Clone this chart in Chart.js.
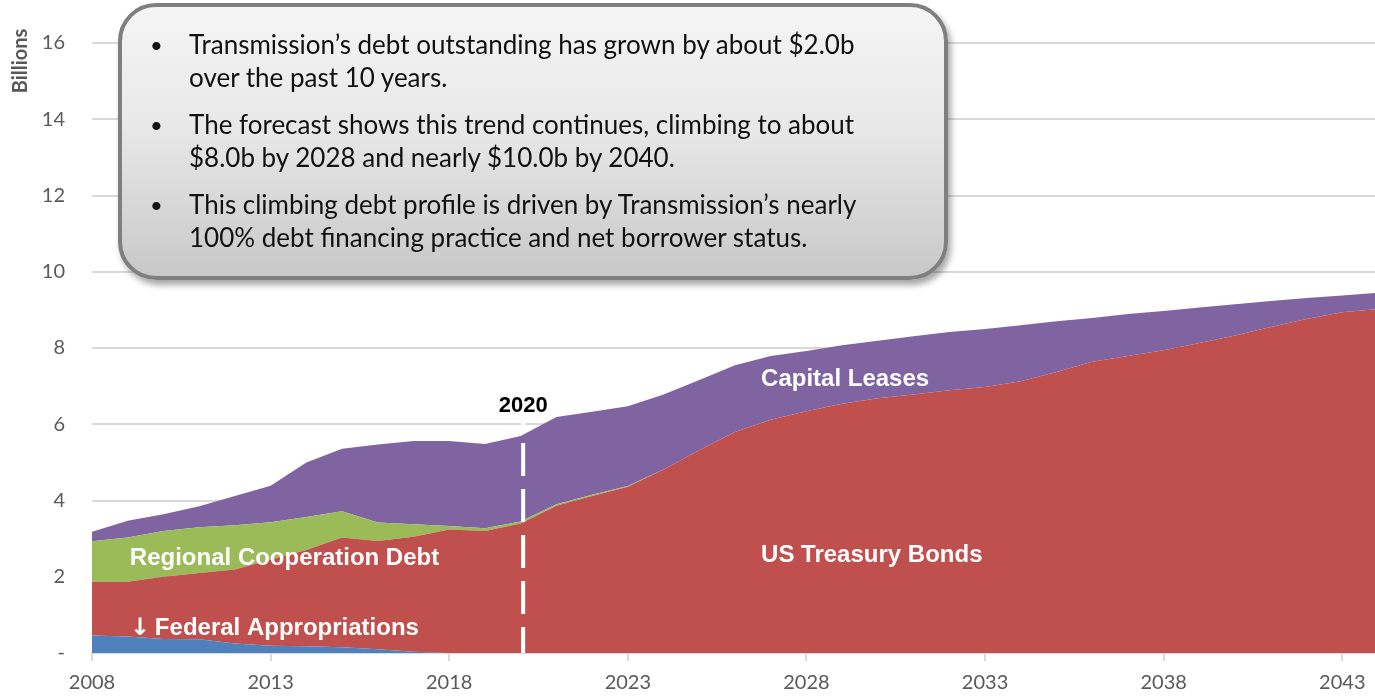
<!DOCTYPE html>
<html>
<head>
<meta charset="utf-8">
<script src="https://cdn.jsdelivr.net/npm/chart.js@4.4.0/dist/chart.umd.min.js"></script>
<style>
  html, body { margin: 0; padding: 0; background: #fff; overflow: hidden; }
  #wrap { position: relative; width: 1388px; height: 697px; }
  .note {
    position: absolute; left: 118px; top: 3px; width: 830px; height: 277px;
    box-sizing: border-box; border: 4px solid #7f7f7f; border-radius: 38px;
    background: linear-gradient(#f5f5f5 0%, #e8e8e8 45%, #c8c8c8 100%);
    box-shadow: 3px 5px 6px rgba(0, 0, 0, 0.35);
  }
  .item {
    position: absolute; left: 0; font-family: Lato, "Open Sans", sans-serif;
    font-size: 26px; line-height: 33px; color: #111; white-space: nowrap;
  }
  .item .dot { position: absolute; left: 150px; font-size: 22px; }
  .item .txt { position: absolute; left: 189px; }
</style>
</head>
<body>
<div id="wrap">
  <canvas id="debtChart"></canvas>
  <div class="note"></div>
  <div class="item" style="top:28px"><span class="dot">•</span><span class="txt">Transmission’s debt outstanding has grown by about $2.0b<br>over the past 10 years.</span></div>
  <div class="item" style="top:108px"><span class="dot">•</span><span class="txt">The forecast shows this trend continues, climbing to about<br>$8.0b by 2028 and nearly $10.0b by 2040.</span></div>
  <div class="item" style="top:188px"><span class="dot">•</span><span class="txt">This climbing debt profile is driven by Transmission’s nearly<br>100% debt financing practice and net borrower status.</span></div>
</div>
<script>
// Years on the x axis
const years = ["2008", "2009", "2010", "2011", "2012", "2013", "2014", "2015", "2016", "2017",
  "2018", "2019", "2020", "2021", "2022", "2023", "2024", "2025", "2026", "2027",
  "2028", "2029", "2030", "2031", "2032", "2033", "2034", "2035", "2036", "2037",
  "2038", "2039", "2040", "2041", "2042", "2043", "2044"];

// Debt outstanding by source, billions (stacked bottom to top)
const federalAppropriations = [0.46, 0.43, 0.37, 0.36, 0.25, 0.19, 0.18, 0.15, 0.10, 0.03,
  0, 0, 0, 0, 0, 0, 0, 0, 0, 0,
  0, 0, 0, 0, 0, 0, 0, 0, 0, 0,
  0, 0, 0, 0, 0, 0, 0];
const usTreasuryBonds = [1.41, 1.44, 1.63, 1.74, 1.94, 2.26, 2.52, 2.88, 2.84, 3.02,
  3.24, 3.20, 3.40, 3.86, 4.12, 4.36, 4.81, 5.32, 5.80, 6.12,
  6.34, 6.54, 6.68, 6.78, 6.89, 6.98, 7.13, 7.37, 7.64, 7.79,
  7.94, 8.13, 8.33, 8.55, 8.76, 8.94, 9.02];
const regionalCooperationDebt = [1.06, 1.16, 1.20, 1.20, 1.16, 0.98, 0.87, 0.69, 0.48, 0.33,
  0.09, 0.07, 0.05, 0.04, 0.03, 0.02, 0, 0, 0, 0,
  0, 0, 0, 0, 0, 0, 0, 0, 0, 0,
  0, 0, 0, 0, 0, 0, 0];
const capitalLeases = [0.25, 0.44, 0.44, 0.55, 0.77, 0.96, 1.43, 1.64, 2.05, 2.18,
  2.23, 2.21, 2.24, 2.29, 2.18, 2.09, 1.97, 1.84, 1.75, 1.67,
  1.58, 1.53, 1.51, 1.53, 1.53, 1.52, 1.47, 1.33, 1.15, 1.10,
  1.03, 0.93, 0.82, 0.68, 0.55, 0.44, 0.43];

const yTicks = [0, 2, 4, 6, 8, 10, 12, 14, 16];

Chart.defaults.font.family = "Lato, 'Open Sans', sans-serif";

function area(label, data, color, fill) {
  return {
    label: label,
    data: data,
    backgroundColor: color,
    borderColor: color,
    borderWidth: 0,
    pointRadius: 0,
    pointHoverRadius: 0,
    tension: 0,
    fill: fill,
  };
}

// Labels, the 2020 marker and the axis title
const overlayPlugin = {
  id: "overlay",
  afterDatasetsDraw(chart) {
    const ctx = chart.ctx;
    const x = chart.scales.x;
    const y = chart.scales.y;
    const px = (yr) => x.getPixelForValue(yr - 2008);

    // dashed 2020 line
    ctx.save();
    ctx.strokeStyle = "#ffffff";
    ctx.lineWidth = 4;
    ctx.setLineDash([33, 13]);
    ctx.lineDashOffset = 18;
    ctx.beginPath();
    ctx.moveTo(px(2020.07), y.getPixelForValue(6.24));
    ctx.lineTo(px(2020.07), y.getPixelForValue(0));
    ctx.stroke();
    ctx.restore();

    ctx.save();
    ctx.textBaseline = "alphabetic";
    ctx.fillStyle = "#000000";
    ctx.textAlign = "center";
    ctx.font = "bold 22px Arial, 'Liberation Sans', sans-serif";
    ctx.fillText("2020", px(2020.07), y.getPixelForValue(6.32));

    ctx.fillStyle = "#ffffff";
    ctx.textAlign = "left";
    ctx.font = "bold 24px Arial, 'Liberation Sans', sans-serif";
    ctx.fillText("Capital Leases", px(2026.73), y.getPixelForValue(7.0));
    ctx.fillText("US Treasury Bonds", px(2026.73), y.getPixelForValue(2.39));
    ctx.fillText("Regional Cooperation Debt", px(2009.06), y.getPixelForValue(2.31));
    ctx.fillText("Federal Appropriations", px(2009.76), y.getPixelForValue(0.47));
    ctx.font = "bold 24px 'DejaVu Sans', sans-serif";
    ctx.fillText("↓", px(2009.06), y.getPixelForValue(0.47));
    ctx.restore();

    // y axis title
    ctx.save();
    ctx.translate(21, 61);
    ctx.rotate(-Math.PI / 2);
    ctx.fillStyle = "#595959";
    ctx.font = "bold 20px Lato, sans-serif";
    ctx.textAlign = "center";
    ctx.textBaseline = "middle";
    ctx.fillText("Billions", 0, 0);
    ctx.restore();
  },
};

new Chart(document.getElementById("debtChart"), {
  type: "line",
  data: {
    labels: years,
    datasets: [
      area("Federal Appropriations", federalAppropriations, "#4f81bd", "origin"),
      area("US Treasury Bonds", usTreasuryBonds, "#c0504d", "-1"),
      area("Regional Cooperation Debt", regionalCooperationDebt, "#9bbb59", "-1"),
      area("Capital Leases", capitalLeases, "#8064a2", "-1"),
    ],
  },
  options: {
    responsive: true,
    maintainAspectRatio: false,
    animation: false,
    layout: { padding: { top: 43, left: 0, right: 0, bottom: 0 } },
    plugins: {
      legend: { display: false },
      tooltip: { enabled: false },
    },
    scales: {
      x: {
        type: "category",
        offset: false,
        grid: {
          drawOnChartArea: false,
          drawTicks: true,
          tickLength: 8,
          lineWidth: 2,
          color: (c) => (c.index % 5 === 0 ? "#d9d9d9" : "rgba(0,0,0,0)"),
        },
        border: { display: true, color: "#d9d9d9", width: 2 },
        ticks: {
          autoSkip: false,
          maxRotation: 0,
          color: "#595959",
          font: { size: 20 },
          padding: 10,
          callback: function (value, index) {
            return index % 5 === 0 ? years[index] : "";
          },
        },
        afterFit: function (scale) {
          scale.height = 44;
        },
      },
      y: {
        stacked: true,
        min: 0,
        max: 16,
        afterBuildTicks: function (scale) {
          scale.ticks = yTicks.map((v) => ({ value: v }));
        },
        grid: { color: "#d9d9d9", lineWidth: 2, drawTicks: false },
        border: { display: false },
        ticks: {
          color: "#595959",
          font: { size: 20 },
          padding: 27,
          callback: (v) => (v === 0 ? "-" : v),
        },
        afterFit: function (scale) {
          scale.width = 92;
        },
      },
    },
  },
  plugins: [overlayPlugin],
});
</script>
</body>
</html>
